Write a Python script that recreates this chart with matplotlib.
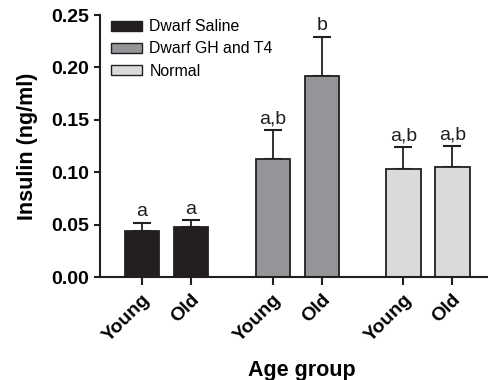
import numpy as np
import matplotlib
matplotlib.use("Agg")
import matplotlib.pyplot as plt
import matplotlib.patches as mpatches

plt.rcParams['font.family'] = ['Liberation Sans', 'DejaVu Sans']

# ---------------- data ----------------
GROUPS = ["Dwarf Saline", "Dwarf GH and T4", "Normal"]
AGES = ["Young", "Old"]
MEANS = [0.044, 0.048, 0.113, 0.192, 0.103, 0.105]
ERRS = [0.008, 0.006, 0.027, 0.037, 0.021, 0.020]
LETTERS = ["a", "a", "a,b", "b", "a,b", "a,b"]
TICK_LABELS = ["Young", "Old", "Young", "Old", "Young", "Old"]

# ---------------- style ----------------
COLORS = ["#231f20", "#939598", "#d9dadb"]
EDGE = "#231f20"
POS = np.array([0, 1, 8 / 3, 11 / 3, 16 / 3, 19 / 3])
BAR_W = 0.7

fig = plt.figure(figsize=(4.89, 3.8), dpi=100)
ax = fig.add_axes([100 / 489, 1 - 277 / 380, 389 / 489, 262 / 380])

bar_colors = [COLORS[i // 2] for i in range(len(MEANS))]
ax.bar(POS, MEANS, width=BAR_W, color=bar_colors, edgecolor=EDGE,
       linewidth=1.3, zorder=2)
ax.errorbar(POS, MEANS, yerr=[np.zeros(len(ERRS)), ERRS], fmt="none",
            ecolor=EDGE, elinewidth=1.3, capsize=6.5, capthick=1.5, zorder=1)

for x, m, e, lab in zip(POS, MEANS, ERRS, LETTERS):
    ax.annotate(lab, (x, m + e), xytext=(0, 2), textcoords="offset points",
                ha="center", va="bottom", fontsize=14, color="#231f20")

ax.set_xlim(-0.857, 7.08)
ax.set_ylim(0, 0.25)
ax.set_yticks(np.arange(0, 0.251, 0.05))
ax.set_yticklabels([f"{v:.2f}" for v in np.arange(0, 0.251, 0.05)],
                   fontsize=14, fontweight="bold")
ax.set_xticks(POS)
ax.set_xticklabels(TICK_LABELS, rotation=45, ha="right",
                   rotation_mode="anchor", fontsize=14, fontweight="bold")

for s in ["top", "right"]:
    ax.spines[s].set_visible(False)
for s in ["left", "bottom"]:
    ax.spines[s].set_linewidth(1.5)
    ax.spines[s].set_color(EDGE)
ax.tick_params(axis="y", length=4, width=1.5, color=EDGE, pad=4)
ax.tick_params(axis="x", length=6, width=1.5, color=EDGE, pad=4)

ax.set_ylabel("Insulin (ng/ml)", fontsize=15.5, fontweight="bold")
ax.yaxis.set_label_coords(-0.16, 0.5)
ax.set_xlabel("Age group", fontsize=15.5, fontweight="bold")
ax.xaxis.set_label_coords((302 - 100) / 389, -0.315)

handles = [mpatches.Patch(facecolor=c, edgecolor=EDGE, linewidth=1.0, label=g)
           for c, g in zip(COLORS, GROUPS)]
ax.legend(handles=handles, loc="upper left", bbox_to_anchor=(0.005, 1.02),
          frameon=False, fontsize=11.4, handlelength=1.95, handleheight=0.57,
          labelspacing=0.45, handletextpad=0.45, borderaxespad=0.2)

fig.savefig("out.png", dpi=100)
